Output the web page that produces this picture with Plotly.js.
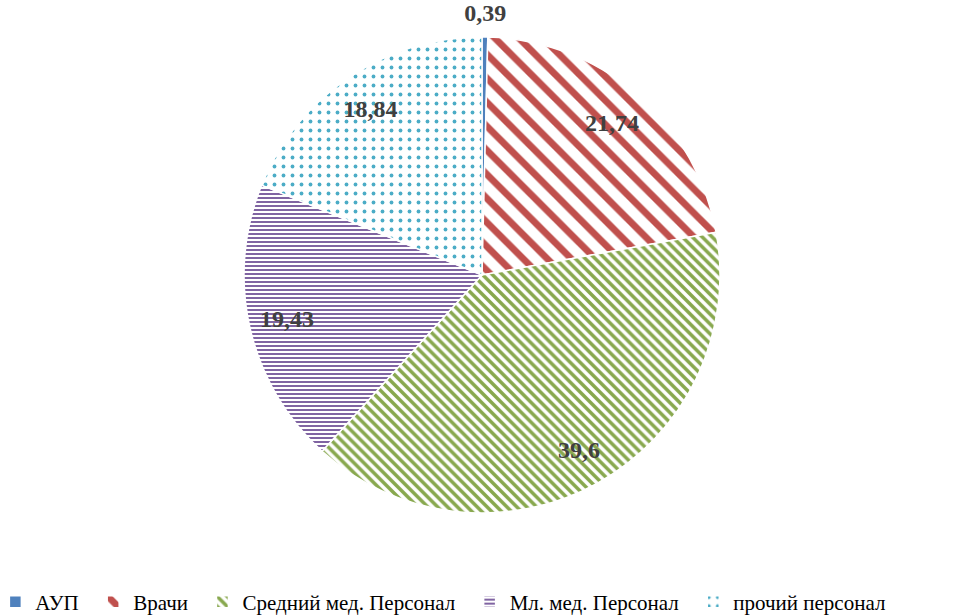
<!DOCTYPE html>
<html>
<head>
<meta charset="utf-8">
<script src="https://cdn.plot.ly/plotly-3.0.1.min.js"></script>
<style>html,body{margin:0;padding:0;background:#fff;}#chart{width:965px;height:615px;}</style>
</head>
<body>
<div id="chart"></div>
<script>
var categories = ['АУП', 'Врачи', 'Средний мед. Персонал', 'Мл. мед. Персонал', 'прочий персонал'];
var values = [0.39, 21.74, 39.6, 19.43, 18.84];
var colors = ['#4F81BD', '#C0504D', '#88A84E', '#8064A2', '#4BACC6'];
var patternShapes = ['', '\\', '\\', '-', '.'];
var patternSizes = [8, 17, 7, 4, 9];
var patternSolidity = [1, 0.4, 0.5, 0.5, 0.14];
var labelText = values.map(function (v) { return String(v).replace('.', ','); });
var outsideLabel = [true, false, false, false, false];

var SERIF = 'Liberation Serif, Times New Roman, serif';
var clear = colors.map(function () { return 'rgba(0,0,0,0)'; });
// a little extra room after each legend entry except the last
var legendNames = categories.map(function (c, i) {
  return i < categories.length - 1 ? c + '\u00a0\u2009' : c;
});

// plot area: 965 x 585 px (bottom margin 30 px holds the legend)
var pieDomain = {x: [0, 964 / 965], y: [72 / 585, 548 / 585]};
var outerDomain = {x: [0, 964 / 965], y: [45 / 585, 575 / 585]};

var slices = {
  type: 'pie',
  values: values,
  labels: legendNames,
  sort: false,
  direction: 'clockwise',
  rotation: 0,
  textinfo: 'none',
  hoverinfo: 'label+value',
  marker: {
    colors: colors,
    line: {color: '#ffffff', width: 1.5},
    pattern: {
      shape: patternShapes,
      size: patternSizes,
      solidity: patternSolidity,
      fgcolor: colors,
      bgcolor: '#ffffff',
      fillmode: 'replace'
    }
  },
  domain: pieDomain,
  showlegend: true
};

var textFont = {family: SERIF, size: 24, color: '#404040', weight: 'bold'};

var innerLabels = {
  type: 'pie',
  values: values,
  labels: legendNames,
  sort: false,
  direction: 'clockwise',
  rotation: 0,
  hole: 0.68,
  text: labelText.map(function (t, i) { return outsideLabel[i] ? '' : t; }),
  textinfo: 'text',
  textposition: 'inside',
  insidetextorientation: 'horizontal',
  textfont: textFont,
  marker: {colors: clear, line: {width: 0}},
  hoverinfo: 'skip',
  domain: pieDomain,
  showlegend: false
};

// transparent ring just outside the pie edge: centres the label of the thin slice
var outerLabels = {
  type: 'pie',
  values: values,
  labels: legendNames,
  sort: false,
  direction: 'clockwise',
  rotation: 0,
  hole: 0.94,
  text: labelText.map(function (t, i) { return outsideLabel[i] ? t : ''; }),
  textinfo: 'text',
  textposition: 'inside',
  insidetextorientation: 'horizontal',
  textfont: textFont,
  marker: {colors: clear, line: {width: 0}},
  hoverinfo: 'skip',
  domain: outerDomain,
  showlegend: false
};

var layout = {
  width: 965,
  height: 615,
  paper_bgcolor: '#ffffff',
  plot_bgcolor: '#ffffff',
  margin: {l: 0, r: 0, t: 0, b: 30, autoexpand: false},
  font: {family: SERIF, color: '#000000'},
  uniformtext: {mode: 'show', minsize: 24},
  legend: {
    orientation: 'h',
    x: -0.0048,
    xanchor: 'left',
    y: -17 / 585,
    yanchor: 'middle',
    font: {family: SERIF, size: 21, color: '#000000'},
    itemwidth: 30,
    traceorder: 'normal'
  },
  showlegend: true
};

Plotly.newPlot('chart', [slices, innerLabels, outerLabels], layout, {displayModeBar: false, staticPlot: true});
</script>
</body>
</html>
